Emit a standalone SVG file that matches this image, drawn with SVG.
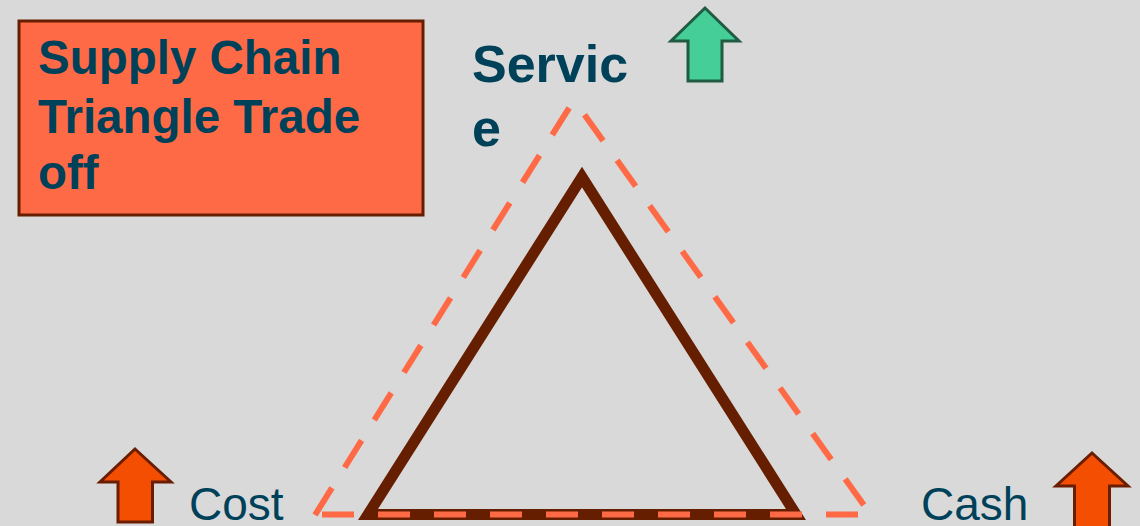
<svg xmlns="http://www.w3.org/2000/svg" width="1140" height="526" viewBox="0 0 1140 526">
<style>
.title{font-family:"Liberation Sans",Arial,sans-serif;font-weight:bold;font-size:47.5px;fill:#00415A}
.svc{font-family:"Liberation Sans",Arial,sans-serif;font-weight:bold;font-size:52px;fill:#00415A}
.lbl{font-family:"Liberation Sans",Arial,sans-serif;font-size:46px;fill:#00415A}
.dash{stroke:#FF6A46;stroke-width:6;fill:none;stroke-dasharray:32 24}
.up{fill:#F44E02;stroke:#6A1D00;stroke-width:3;stroke-linejoin:miter}
</style>
<rect width="1140" height="526" fill="#D9D9D9"/>
<g id="title">
<rect x="19" y="21" width="404" height="194" fill="#FF6A46" stroke="#661E00" stroke-width="3"/>
<text class="title" x="38" y="74">Supply Chain</text>
<text class="title" x="38" y="133">Triangle Trade</text>
<text class="title" x="38" y="189">off</text>
</g>
<g id="triangle">
<polygon points="582,177 368,514.5 796,514.5" fill="none" stroke="#661E00" stroke-width="11" stroke-linejoin="miter" stroke-miterlimit="10"/>
</g>
<g id="connectors">
<line class="dash" x1="315" y1="515" x2="574" y2="100"/>
<line class="dash" x1="574" y1="100" x2="871" y2="515" stroke-dashoffset="38"/>
<line class="dash" x1="315" y1="514.5" x2="872" y2="514.5" stroke-dashoffset="49"/>
</g>
<g id="service">
<text class="svc" x="472" y="82">Servic</text>
<text class="svc" x="472" y="146">e</text>
<polygon points="705,8 739,41 722,41 722,81 688,81 688,41 671,41" fill="#45CE98" stroke="#1F5C41" stroke-width="3"/>
</g>
<g id="cost">
<polygon class="up" points="135,449 171,482 152.5,482 152.5,522 118,522 118,482 100,482"/>
<text class="lbl" x="189" y="520">Cost</text>
</g>
<g id="cash">
<polygon class="up" points="1092,453 1128,486 1109.5,486 1109.5,530 1074.5,530 1074.5,486 1056,486"/>
<text class="lbl" x="921" y="520">Cash</text>
</g>
</svg>
